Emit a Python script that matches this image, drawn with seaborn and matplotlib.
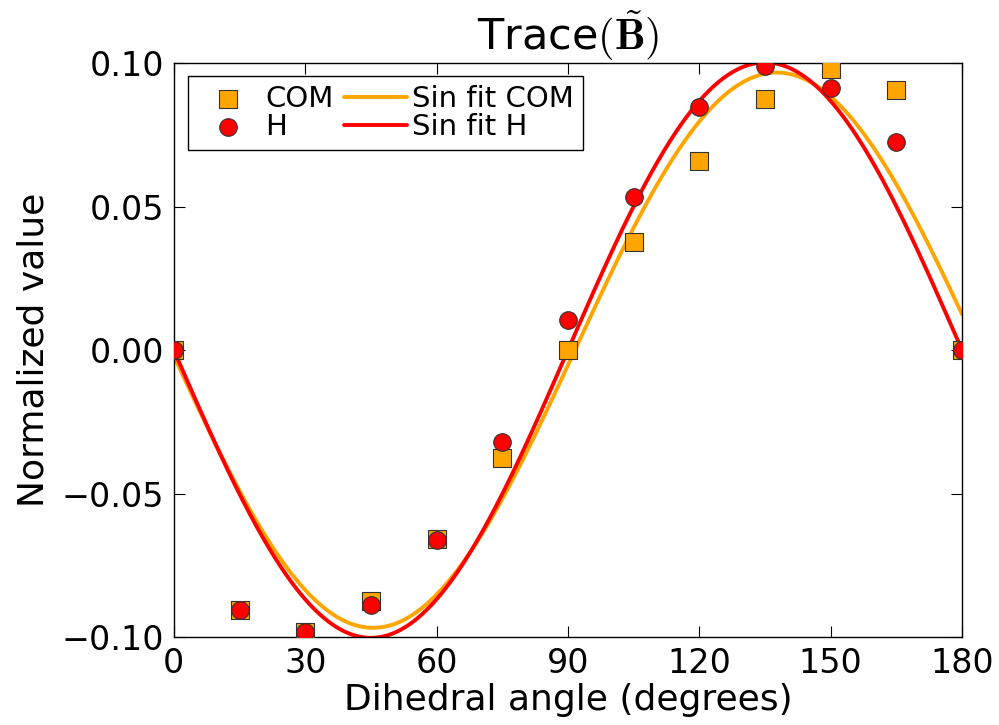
import numpy as np
import pandas as pd
import matplotlib
matplotlib.use("Agg")
import matplotlib.pyplot as plt
import seaborn as sns

# Data
angles = [0, 15, 30, 45, 60, 75, 90, 105, 120, 135, 150, 165, 180]
com_values = [0.0, -0.0906, -0.098, -0.0875, -0.0659, -0.0376, 0.0,
              0.0376, 0.0659, 0.0875, 0.098, 0.0906, 0.0]
h_values = [0.0, -0.0906, -0.098, -0.0889, -0.066, -0.032, 0.0105,
            0.0533, 0.0847, 0.099, 0.0913, 0.0725, 0.0]
# sin fit parameters: y = -A * sin(2*pi*(x - x0)/T)
fit_com = dict(A=0.0967, T=184.4, x0=-0.6)
fit_h = dict(A=0.1002, T=180.0, x0=0.0)
xticks = [0, 30, 60, 90, 120, 150, 180]
yticks = [-0.10, -0.05, 0.00, 0.05, 0.10]

sns.set_style("ticks")
plt.rcParams.update({
    "font.family": ["DejaVu Sans"],
    "mathtext.fontset": "cm",
    "text.color": "black",
    "axes.labelcolor": "black",
    "xtick.color": "black",
    "ytick.color": "black",
    "xtick.direction": "in",
    "ytick.direction": "in",
    "xtick.top": True,
    "ytick.right": True,
    "xtick.major.size": 8,
    "ytick.major.size": 8,
    "axes.edgecolor": "black",
    "axes.linewidth": 1.0,
})

fig = plt.figure(figsize=(9.99, 7.25), dpi=100)
ax = fig.add_axes([0.174, 0.121, 0.789, 0.792])

pts = pd.DataFrame({"angle": angles, "COM": com_values, "H": h_values})
xf = np.linspace(0, 180, 500)

def sinfit(p, x):
    return -p["A"] * np.sin(2 * np.pi * (x - p["x0"]) / p["T"])

fits = pd.DataFrame({"x": xf, "com": sinfit(fit_com, xf), "h": sinfit(fit_h, xf)})

orange = "#FFA500"
red = "#FF0000"

sns.scatterplot(data=pts, x="angle", y="COM", ax=ax, marker="s", s=150,
                color=orange, edgecolor="#333333", linewidth=0.8, label="COM",
                zorder=3)
sns.scatterplot(data=pts, x="angle", y="H", ax=ax, marker="o", s=160,
                color=red, edgecolor="#333333", linewidth=0.8, label="H",
                zorder=4)
sns.lineplot(data=fits, x="x", y="com", ax=ax, color=orange, lw=2.8,
             label="Sin fit COM", zorder=2)
sns.lineplot(data=fits, x="x", y="h", ax=ax, color=red, lw=2.8,
             label="Sin fit H", zorder=2)

ax.set_xlim(0, 180)
ax.set_ylim(-0.1, 0.1)
ax.set_xticks(xticks)
ax.set_yticks(yticks)
ax.set_yticklabels([f"{v:.2f}".replace("-", "\u2212") for v in yticks])
ax.tick_params(labelsize=24, pad=7)
ax.set_xlabel("Dihedral angle (degrees)", fontsize=26, labelpad=2)
ax.set_ylabel("Normalized value", fontsize=26, labelpad=8)
ax.set_title(r"Trace$(\tilde{\mathbf{B}})$", fontsize=31, pad=4)

leg = ax.legend(loc="upper left", ncol=2, fontsize=21, frameon=True,
                fancybox=False, framealpha=1, edgecolor="black",
                borderpad=0.3, handlelength=2.15, columnspacing=0.35,
                handletextpad=0.2, labelspacing=0.0, borderaxespad=0.0,
                bbox_to_anchor=(0.018, 0.977))
leg.get_frame().set_linewidth(1.0)

fig.savefig("out.png", dpi=100)
